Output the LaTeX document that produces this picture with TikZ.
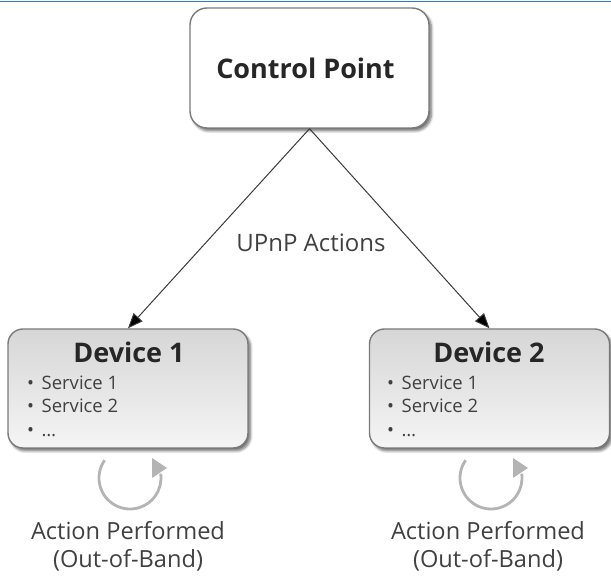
\documentclass[tikz,border=0pt]{standalone}
\usepackage{fontspec}
\setmainfont{Open Sans}
\usetikzlibrary{arrows.meta,shadows.blur}

\definecolor{frameblue}{HTML}{2E7BC0}
\definecolor{boxline}{HTML}{7A7A7A}
\definecolor{wire}{HTML}{3A3A3A}
\definecolor{ink}{HTML}{262626}
\definecolor{soft}{HTML}{404040}
\definecolor{loopgray}{HTML}{B4B4B4}

\tikzset{
  shadowed/.style={blur shadow={shadow xshift=2.5pt, shadow yshift=-3pt,
      shadow blur steps=6, shadow blur radius=2.5pt, shadow opacity=55}},
  cpbox/.style={shadowed, draw=boxline, line width=1.4pt, fill=white,
      rounded corners=17pt, minimum width=239pt, minimum height=120pt,
      inner sep=0pt, text=ink, font=\fontsize{27}{32}\selectfont\bfseries},
  devbox/.style={shadowed, draw=boxline, line width=1.4pt,
      top color=gray!32, bottom color=gray!8,
      rounded corners=15pt, minimum width=240pt, minimum height=119pt,
      inner sep=0pt},
  devtitle/.style={anchor=base, inner sep=0pt, text=ink,
      font=\fontsize{27}{31}\selectfont\bfseries},
  service/.style={anchor=base west, inner sep=0pt, text=soft,
      font=\fontsize{18.5}{22}\selectfont},
  conn/.style={draw=wire, line width=1pt,
      -{Triangle[length=15pt, width=12pt, fill=black]}},
  edgelabel/.style={anchor=base, inner sep=0pt, text=soft,
      font=\fontsize{24}{28}\selectfont},
  caption/.style={anchor=base, inner sep=0pt, text=soft, align=center,
      font=\fontsize{23.6}{28}\selectfont},
  loopline/.style={draw=loopgray, line width=2.8pt},
  loophead/.style={fill=loopgray, draw=none},
}
\newcommand{\svcitem}[1]{\textbullet\hspace{7.5pt}#1}

\begin{document}
\begin{tikzpicture}[x=1pt, y=1pt]
  \useasboundingbox (0,0) rectangle (611,577);

  % thin rule along the top edge
  \coordinate (ruleL) at (0,575.4);
  \coordinate (ruleR) at (611,575.4);
  \draw[frameblue, line width=1.8pt] (ruleL) -- (ruleR);

  % control point and the two devices
  \node[cpbox] (cp) at (309.5,509) {\hspace*{-8pt}Control Point};
  \node[devbox] (d1) at (128,188.5) {};
  \node[devbox] (d2) at (489.5,188.5) {};

  % device contents
  \node[devtitle] (d1title) at (129,214) {Device 1};
  \node[service] (d1s1) at (27,187) {\svcitem{Service 1}};
  \node[service] (d1s2) at (27,164) {\svcitem{Service 2}};
  \node[service] (d1s3) at (27,140) {\svcitem{\dots}};

  \node[devtitle] (d2title) at (489,214) {Device 2};
  \node[service] (d2s1) at (387,187) {\svcitem{Service 1}};
  \node[service] (d2s2) at (387,164) {\svcitem{Service 2}};
  \node[service] (d2s3) at (387,140) {\svcitem{\dots}};

  % UPnP actions from the control point to each device
  \draw[conn] (cp.south) -- (d1.north);
  \draw[conn] (cp.south) -- (d2.north);
  \node[edgelabel] (upnp) at (311,325) {UPnP Actions};

  % out-of-band actions: circular arrows under each device
  \coordinate (loop1) at (130,99);
  \coordinate (loop2) at (491,99);
  \foreach \c in {loop1,loop2}{
    \draw[loopline] ([shift={(145:31)}]\c) arc[start angle=145, end angle=368, radius=31];
    \fill[loophead] ([shift={(22,20)}]\c) -- ([shift={(37,10)}]\c) -- ([shift={(22,0)}]\c) -- cycle;
  }

  \node[caption] (cap1a) at (128,37) {Action Performed};
  \node[caption] (cap1b) at (128,9) {(Out-of-Band)};
  \node[caption] (cap2a) at (488,37) {Action Performed};
  \node[caption] (cap2b) at (488,9) {(Out-of-Band)};
\end{tikzpicture}
\end{document}
